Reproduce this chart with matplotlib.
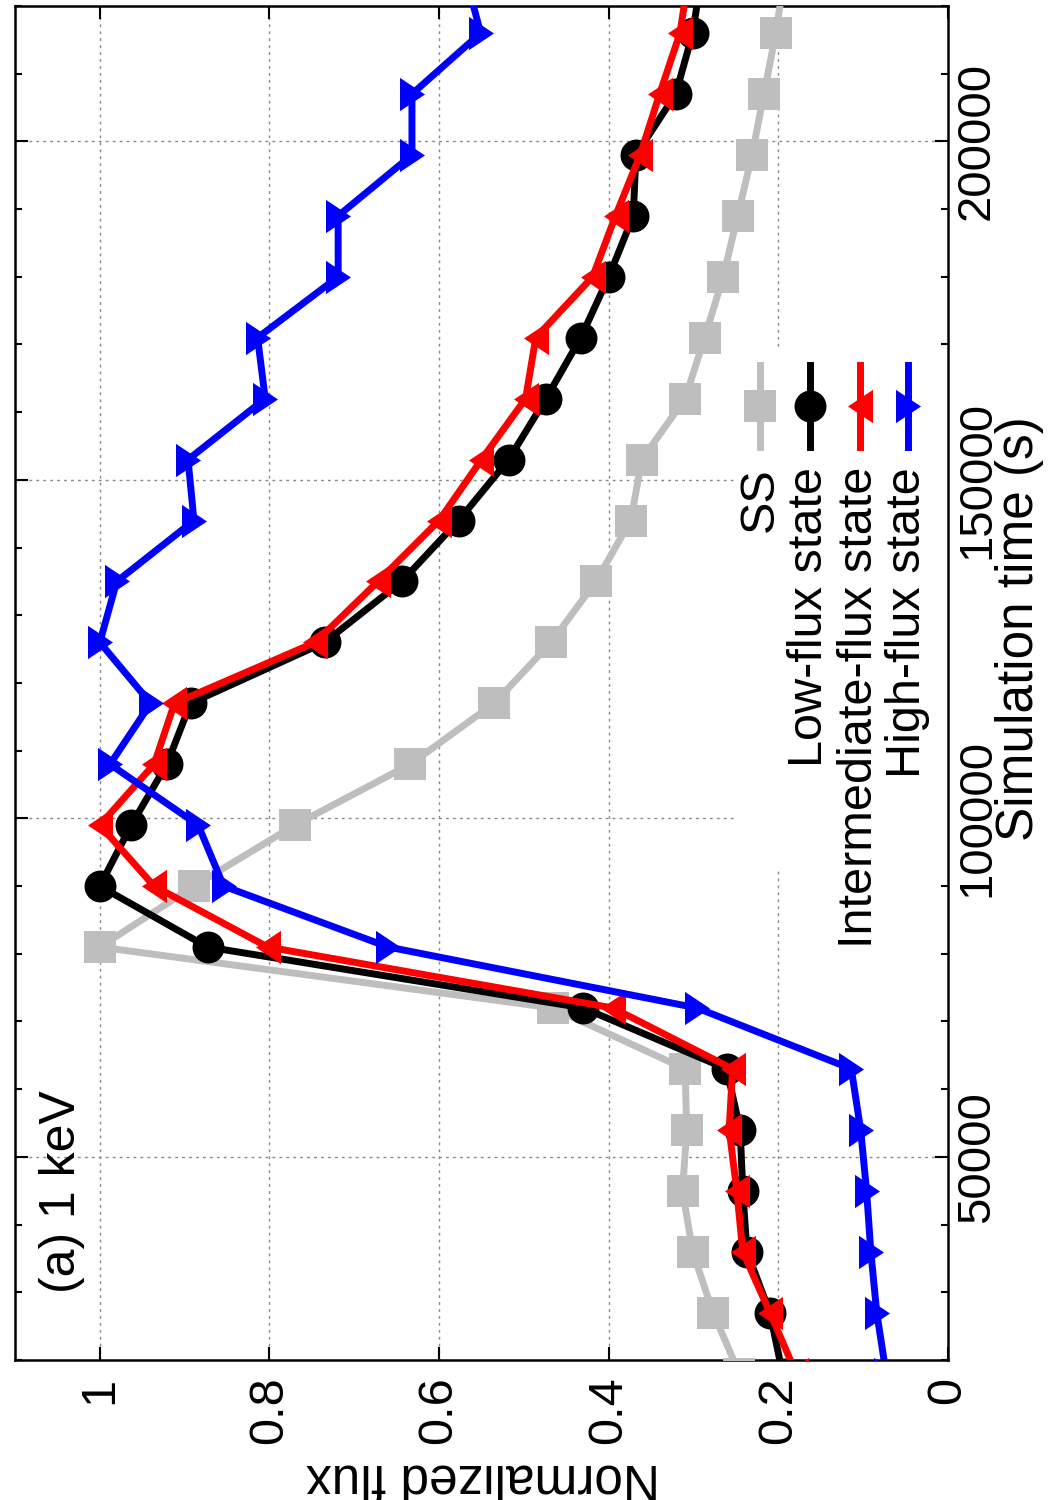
import matplotlib
matplotlib.use("Agg")
import matplotlib.pyplot as plt
from matplotlib.lines import Line2D
from matplotlib.patches import Rectangle
from matplotlib.path import Path
import numpy as np

plt.rcParams['font.family'] = ['Liberation Sans', 'DejaVu Sans']

# ---------------- data ----------------
time_s = [18000, 27000, 36000, 45000, 54000, 63000, 72000, 81000, 90000, 99000,
          108000, 117000, 126000, 135000, 144000, 153000, 162000, 171000, 180000,
          189000, 198000, 207000, 216000, 225000]
ss = [0.246, 0.277, 0.301, 0.313, 0.308, 0.310, 0.466, 1.000, 0.889, 0.770,
      0.634, 0.535, 0.468, 0.415, 0.374, 0.361, 0.310, 0.287, 0.265, 0.248,
      0.231, 0.217, 0.203, 0.192]
low_flux = [0.195, 0.210, 0.237, 0.242, 0.245, 0.261, 0.430, 0.873, 1.000, 0.963,
            0.921, 0.893, 0.735, 0.644, 0.577, 0.518, 0.474, 0.433, 0.400, 0.371,
            0.368, 0.321, 0.301, 0.290]
inter_flux = [0.179, 0.210, 0.242, 0.249, 0.258, 0.254, 0.395, 0.802, 0.936, 1.000,
              0.936, 0.912, 0.746, 0.672, 0.600, 0.550, 0.498, 0.486, 0.419, 0.392,
              0.363, 0.340, 0.316, 0.305]
high_flux = [0.073, 0.084, 0.091, 0.096, 0.103, 0.114, 0.296, 0.660, 0.854, 0.884,
             0.988, 0.940, 1.000, 0.980, 0.889, 0.896, 0.805, 0.814, 0.719, 0.719,
             0.632, 0.632, 0.551, 0.570]

series_labels = ["SS", "Low-flux state", "Intermediate-flux state", "High-flux state"]
flux_ticks = [0, 0.2, 0.4, 0.6, 0.8, 1.0]
flux_ticklabels = ["0", "0.2", "0.4", "0.6", "0.8", "1"]
time_ticks = [50000, 100000, 150000, 200000]
time_ticklabels = ["50000", "100000", "150000", "200000"]
time_minor = list(range(20000, 220001, 10000))
panel_label = "(a) 1 keV"
flux_label = "Normalized flux"
time_label = "Simulation time (s)"

# ---------------- figure ----------------
W, H = 1050, 1500
fig = plt.figure(figsize=(W / 100, H / 100), dpi=100)

def fx(px):
    return px / W

def fy(py):
    return 1 - py / H

ax_left, ax_right, ax_top, ax_bottom = 15, 948, 6, 1360
ax = fig.add_axes([fx(ax_left), fy(ax_bottom), (ax_right - ax_left) / W,
                   (ax_bottom - ax_top) / H])
ax.set_xlim(1.1, 0)
ax.set_ylim(20000, 220000)

# markers (taller than wide triangles)
tri_right = Path([(-0.75, -1), (0.75, 0), (-0.75, 1), (-0.75, -1)],
                 [Path.MOVETO, Path.LINETO, Path.LINETO, Path.CLOSEPOLY])
tri_left = Path([(0.75, -1), (-0.75, 0), (0.75, 1), (0.75, -1)],
                [Path.MOVETO, Path.LINETO, Path.LINETO, Path.CLOSEPOLY])

styles = [
    dict(color="#bebebe", marker="s", ms=23),
    dict(color="black", marker="o", ms=23),
    dict(color="red", marker=tri_left, ms=24),
    dict(color="blue", marker=tri_right, ms=24),
]
datasets = [ss, low_flux, inter_flux, high_flux]
lw = 5
for d, st in zip(datasets, styles):
    ax.plot(d, time_s, color=st["color"], lw=lw, marker=st["marker"],
            ms=st["ms"], mec=st["color"], mew=0, mfc=st["color"],
            solid_joinstyle="miter", zorder=3)

# grid
gstyle = dict(color="#888888", lw=1.0, ls=(0, (2, 3)), zorder=1)
for v in flux_ticks[1:]:
    ax.axvline(v, **gstyle)
for t in time_ticks:
    ax.axhline(t, **gstyle)

# ticks
ax.set_xticks(flux_ticks)
ax.set_xticklabels(flux_ticklabels)
ax.set_yticks(time_ticks)
ax.set_yticklabels(time_ticklabels)
ax.set_yticks(time_minor, minor=True)
ax.tick_params(axis="x", which="major", direction="in", top=True, bottom=True,
               length=9.5, width=1.5, labelsize=35, labelrotation=90, pad=12)
ax.tick_params(axis="y", which="major", direction="in", left=True, right=True,
               labelleft=False, labelright=True, length=9.5, width=1.5,
               labelsize=34, labelrotation=90, pad=5)
ax.tick_params(axis="y", which="minor", direction="in", left=True, right=True,
               length=5, width=1.5)
for lab in ax.get_yticklabels():
    lab.set_verticalalignment("center")
for s in ax.spines.values():
    s.set_linewidth(1.8)

# legend (opaque box, vertical layout)
ax.add_patch(Rectangle((fx(737), fy(870)), fx(948) - fx(737), fy(350) - fy(870),
                       transform=fig.transFigure, facecolor="white",
                       edgecolor="none", zorder=2))
col_x = [760, 810, 860, 908]
for cx, st, lab in zip(col_x, styles, series_labels):
    fig.add_artist(Line2D([fx(cx), fx(cx)], [fy(365), fy(447)],
                          transform=fig.transFigure, color=st["color"], lw=lw,
                          zorder=5))
    fig.add_artist(Line2D([fx(cx)], [fy(406)], transform=fig.transFigure,
                          color=st["color"], marker=st["marker"], ms=st["ms"],
                          mew=0, zorder=6))
    fig.text(fx(cx), fy(467), lab, rotation=90, rotation_mode="anchor",
             ha="right", va="center", fontsize=35, zorder=6)

# labels
fig.text(fx(62), fy(1293), panel_label, rotation=90, rotation_mode="anchor",
         ha="left", va="center", fontsize=36)
fig.text(fx(483), fy(1478), flux_label, rotation=180, ha="center", va="center",
         fontsize=37)
fig.text(fx(1020), fy(629), time_label, rotation=90, ha="center", va="center",
         fontsize=37)

fig.savefig("out.png", dpi=100)
